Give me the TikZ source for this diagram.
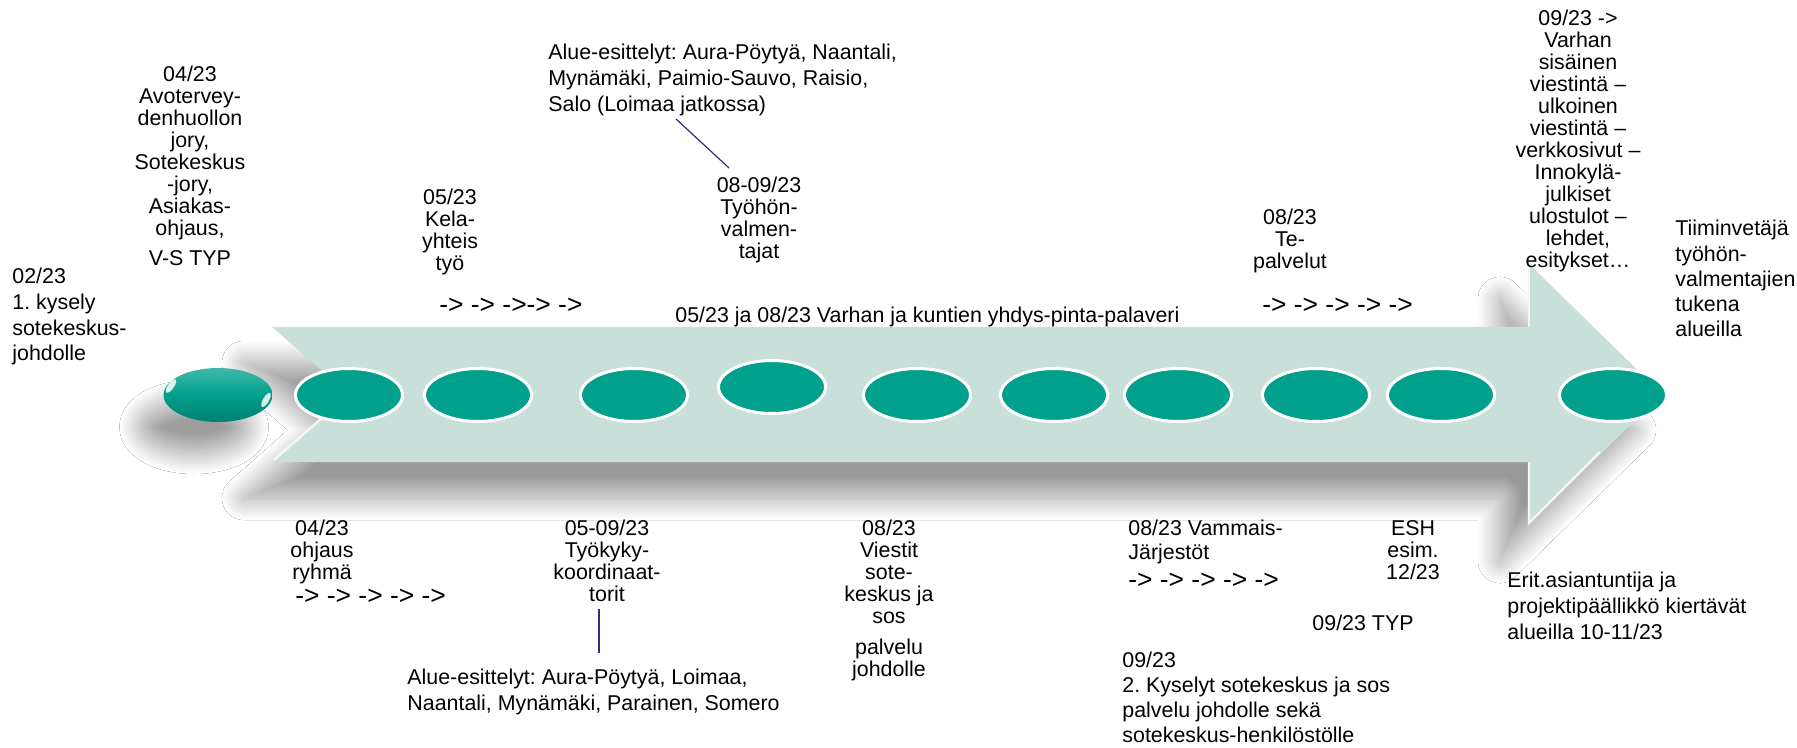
\documentclass[tikz,border=0pt]{standalone}
\usepackage{fontspec}
\setmainfont{Liberation Sans}
\usetikzlibrary{shapes.geometric,shadows.blur}
\definecolor{teal1}{RGB}{0,160,140}
\definecolor{bandc}{RGB}{201,224,218}
\definecolor{navy1}{RGB}{45,45,130}
\tikzset{
  dot/.style={ellipse, fill=teal1, draw=white, line width=1.5pt, minimum width=53.5pt, minimum height=26.5pt, inner sep=0pt},
  lbl/.style={inner sep=0pt, font=\fontsize{10.7}{11}\selectfont\frenchspacing, align=center, anchor=north},
  lbll/.style={inner sep=0pt, font=\fontsize{10.7}{12.8}\selectfont\frenchspacing, align=left, anchor=north west},
  lblb/.style={inner sep=0pt, font=\fontsize{10.7}{12.8}\selectfont\frenchspacing},
  arr/.style={inner sep=0pt, font=\fontsize{13.2}{14}\selectfont, anchor=west},
  link/.style={draw=navy1, line width=0.6pt},
  hilite/.style={draw=white, line width=1.2pt, opacity=0.75},
}
\begin{document}
\begin{tikzpicture}[x=0.5pt,y=-0.5pt]
\fill[white] (0,0) rectangle (1797,748);
\useasboundingbox (0,0) rectangle (1797,748);

% arrow band
\fill[bandc, blur shadow={shadow xshift=-14pt, shadow yshift=-18pt, shadow blur radius=11pt, shadow blur steps=40, shadow opacity=40}]
  (272,327) -- (1528,327) -- (1528,263) -- (1662,394) -- (1528,525) -- (1528,462) -- (272,462) -- (349,394) -- cycle;
\draw[hilite] (274,460) -- (322,418);
\draw[hilite] (1529,264) -- (1529,327);
\draw[hilite] (1529,462) -- (1529,523) -- (1600,452);

% first glossy ellipse
\node[ellipse, minimum width=54.5pt, minimum height=27pt, inner sep=0pt,
  top color=teal1!75!white, bottom color=teal1!80!black, middle color=teal1,
  blur shadow={shadow xshift=-12pt, shadow yshift=-16pt, shadow blur radius=10pt, shadow blur steps=40, shadow opacity=38}] (e1) at (218,395) {};
\fill[white, opacity=0.85, rotate around={-35:(171,386)}] (171,386) ellipse [x radius=3, y radius=8];
\fill[white, opacity=0.85, rotate around={-30:(266,400)}] (266,400) ellipse [x radius=3, y radius=8];

% timeline dots
\node[dot] (e2) at (349,395) {};
\node[dot] (e3) at (478,395) {};
\node[dot] (e4) at (634,395) {};
\node[dot] (e5) at (772,387) {};
\node[dot] (e6) at (917,395) {};
\node[dot] (e7) at (1054,395) {};
\node[dot] (e8) at (1178,395) {};
\node[dot] (e9) at (1316,395) {};
\node[dot] (e10) at (1441,395) {};
\node[dot] (e11) at (1613,395) {};

% upper labels
\node[lbll] (t0) at (12,268) {02/23\\1. kysely\\sotekeskus-\\johdolle};
\node[lbl] (t1) at (190,66) {04/23\\Avotervey-\\denhuollon\\jory,\\Sotekeskus\\-jory,\\Asiakas-\\ohjaus,\\[4pt]V-S TYP};
\node[lbl] (t2) at (450,189) {05/23\\Kela-\\yhteis\\työ};
\node[arr] (a1) at (439,306) {-> -> ->-> ->};
\node[lbll] (t4) at (548,44) {Alue-esittelyt: Aura-Pöytyä, Naantali,\\Mynämäki, Paimio-Sauvo, Raisio,\\Salo (Loimaa jatkossa)};
\node[lbl] (t5) at (759,177) {08-09/23\\Työhön-\\valmen-\\tajat};
\node[lblb, anchor=base west] (t6) at (675,322) {05/23 ja 08/23 Varhan ja kuntien yhdys-pinta-palaveri};
\node[lbl] (t7) at (1290,209) {08/23\\Te-\\palvelut};
\node[arr] (a2) at (1262,306) {-> -> -> -> ->};
\node[lbl] (t9) at (1578,10) {09/23 ->\\Varhan\\sisäinen\\viestintä –\\ulkoinen\\viestintä –\\verkkosivut –\\Innokylä-\\julkiset\\ulostulot –\\lehdet,\\esitykset…};
\node[lbll, font=\fontsize{10.7}{12.6}\selectfont] (t10) at (1675,220) {Tiiminvetäjä\\työhön-\\valmentajien\\tukena\\alueilla};

\coordinate (c1) at (676,119);
\coordinate (c2) at (729,168);
\draw[link] (c1) -- (c2);

% lower labels
\node[lbl] (t11) at (322,520) {04/23\\ohjaus\\ryhmä};
\node[arr] (a3) at (295,597) {-> -> -> -> ->};
\node[lbl] (t13) at (607,520) {05-09/23\\Työkyky-\\koordinaat-\\torit};
\node[lbll] (t14) at (407,669) {Alue-esittelyt: Aura-Pöytyä, Loimaa,\\Naantali, Mynämäki, Parainen, Somero};
\node[lbl] (t15) at (889,520) {08/23\\Viestit\\sote-\\keskus ja\\sos\\[4.5pt]palvelu\\johdolle};
\node[lbll, font=\fontsize{10.7}{11.8}\selectfont\frenchspacing] (t16) at (1128,520) {08/23 Vammais-\\Järjestöt};
\node[arr] (a4) at (1128,581) {-> -> -> -> ->};
\node[lbl] (t18) at (1413,520) {ESH\\esim.\\12/23};
\node[lblb, anchor=base] (t19) at (1363,630) {09/23 TYP};
\node[lbll, font=\fontsize{10.7}{12.5}\selectfont\frenchspacing] (t20) at (1122,652) {09/23\\2. Kyselyt sotekeskus ja sos\\palvelu johdolle sekä\\sotekeskus-henkilöstölle};
\node[lbll] (t21) at (1507,572) {Erit.asiantuntija ja\\projektipäällikkö kiertävät\\alueilla 10-11/23};

\coordinate (c3) at (599,609);
\coordinate (c4) at (599,653);
\draw[link] (c3) -- (c4);
\end{tikzpicture}
\end{document}
